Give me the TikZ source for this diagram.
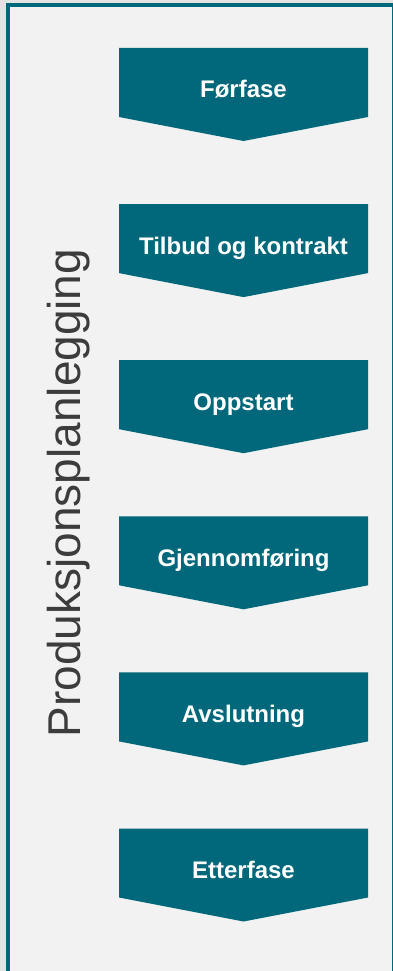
\documentclass[tikz,border=0pt]{standalone}
\usepackage{fontspec}
\setmainfont{Liberation Sans}
\usepackage{tikz}
\usetikzlibrary{positioning}

\definecolor{fasefarge}{RGB}{0,104,122}
\definecolor{innerbg}{RGB}{242,242,242}
\definecolor{ytterbg}{RGB}{227,227,227}
\definecolor{tekstgraa}{RGB}{60,60,60}

\begin{document}
\begin{tikzpicture}[x=1pt, y=-1pt,
    fase/.style={fill=fasefarge},
    fasetekst/.style={anchor=base, text=white, font=\fontsize{24}{28}\selectfont\bfseries},
    ramme/.style={draw=fasefarge, line width=3.6pt, fill=innerbg}]
    % bakgrunn og ramme
    \fill[ytterbg] (0,0) rectangle (393,971);
    \clip (0,0) rectangle (393,971);
    \draw[ramme] (8,5) rectangle (393.5,990);

    % loddrett tittel
    \node[rotate=90, anchor=base, text=tekstgraa, font=\fontsize{46}{50}\selectfont] (tittel) at (80,493) {Produksjonsplanlegging};

    % faser
    \foreach \i/\txt in {0/Førfase, 1/Tilbud og kontrakt, 2/Oppstart, 3/Gjennomføring, 4/Avslutning, 5/Etterfase} {
        \pgfmathsetmacro\ytop{48+156.1*\i}
        \fill[fase] (119,\ytop) -- (368,\ytop) -- (368,\ytop+69) -- (243.5,\ytop+93) -- (119,\ytop+69) -- cycle;
        \node[fasetekst] (fase\i) at (243.5,\ytop+50) {\txt};
    }
\end{tikzpicture}
\end{document}
